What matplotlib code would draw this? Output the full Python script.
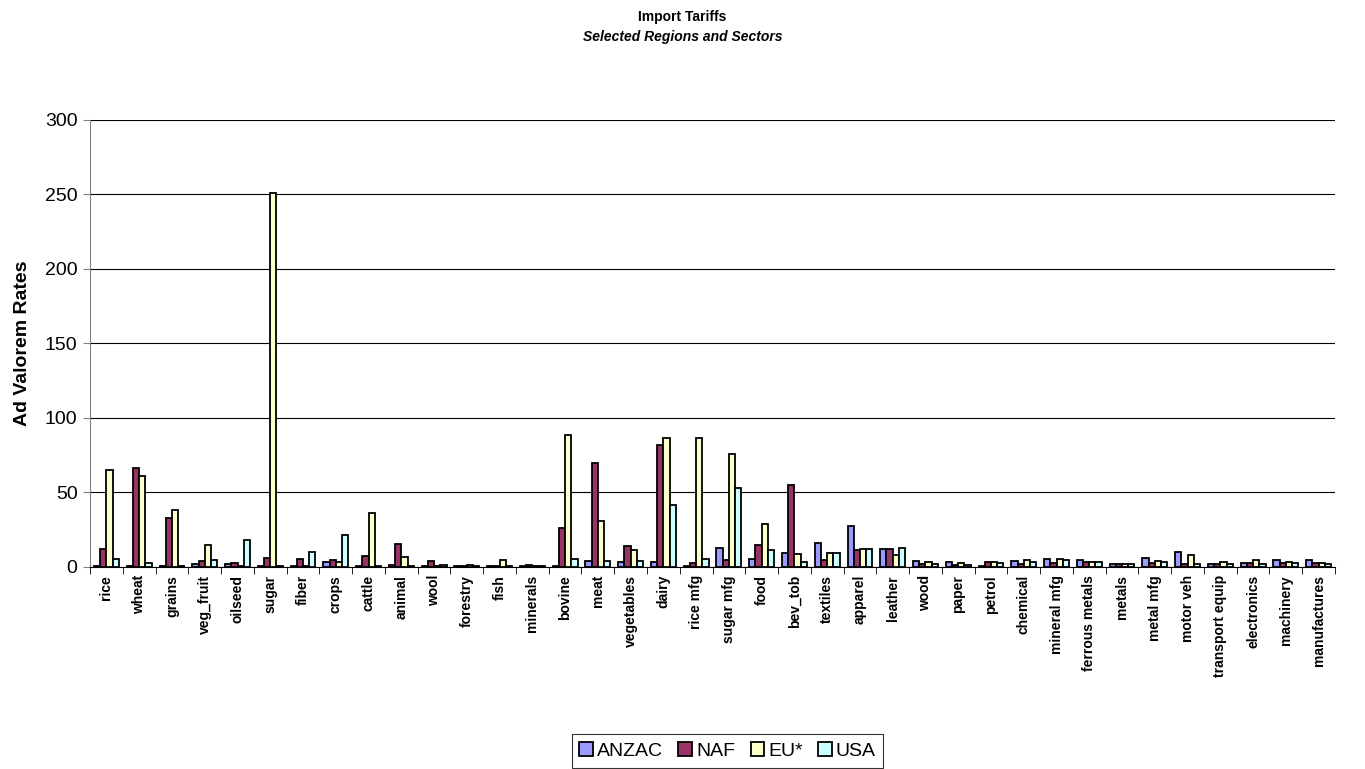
import numpy as np
import matplotlib
matplotlib.use("Agg")
import matplotlib.pyplot as plt

plt.rcParams['font.family'] = ['Liberation Sans', 'DejaVu Sans']

sectors = ["rice", "wheat", "grains", "veg_fruit", "oilseed", "sugar", "fiber", "crops",
           "cattle", "animal", "wool", "forestry", "fish", "minerals", "bovine", "meat",
           "vegetables", "dairy", "rice mfg", "sugar mfg", "food", "bev_tob", "textiles",
           "apparel", "leather", "wood", "paper", "petrol", "chemical", "mineral mfg",
           "ferrous metals", "metals", "metal mfg", "motor veh", "transport equip",
           "electronics", "machinery", "manufactures"]

anzac = [0.5, 0.2, 0.5, 2.0, 2.0, 0.2, 0.3, 2.9, 0.5, 1.0, 0.5, 0.5, 0.2, 0.5, 0.2, 4.0,
         2.9, 3.3, 0.5, 12.9, 4.9, 8.9, 16.0, 27.3, 12.0, 3.8, 3.1, 0.3, 3.8, 4.9,
         4.7, 1.6, 6.2, 9.6, 1.6, 2.2, 4.4, 4.2]
naf = [12.2, 66.2, 32.9, 4.0, 2.7, 5.8, 5.1, 4.4, 6.9, 15.2, 4.0, 0.8, 0.3, 1.5, 26.2, 70.0,
       14.0, 81.6, 2.7, 4.7, 14.9, 54.9, 4.7, 11.3, 12.2, 2.0, 1.3, 2.9, 1.8, 2.2,
       2.9, 1.6, 2.2, 1.8, 1.6, 2.2, 2.2, 2.7]
eu = [64.7, 60.9, 38.4, 14.7, 0.2, 251.0, 0.2, 3.0, 36.4, 6.7, 0.2, 1.0, 4.7, 0.2, 88.2, 30.7,
      11.3, 86.7, 86.7, 76.0, 28.7, 8.4, 8.9, 11.6, 8.0, 2.9, 2.4, 2.9, 4.2, 4.9,
      2.9, 2.0, 3.6, 8.0, 2.9, 4.7, 3.1, 2.7]
usa = [4.9, 2.7, 0.5, 4.7, 17.8, 0.5, 9.8, 21.6, 0.5, 0.5, 1.2, 0.5, 0.5, 0.5, 5.3, 3.6,
       4.0, 41.8, 5.1, 52.9, 11.3, 3.3, 8.9, 11.6, 12.9, 1.6, 1.3, 2.2, 2.9, 4.7,
       2.9, 1.6, 3.3, 1.8, 1.8, 1.8, 2.4, 1.8]

series = [("ANZAC", anzac, "#9999FF"), ("NAF", naf, "#993366"),
          ("EU*", eu, "#FFFFCC"), ("USA", usa, "#CCFFFF")]

fig = plt.figure(figsize=(13.65, 7.69), dpi=100)
ax = fig.add_axes([0.066, 0.263, 0.912, 0.581])

x = np.arange(len(sectors))
w = 0.19
for i, (name, vals, col) in enumerate(series):
    ax.bar(x + (i - 1.5) * w, vals, w, color=col, edgecolor="black", linewidth=1.3,
           label=name, zorder=3)

ax.set_xlim(-0.5, len(sectors) - 0.5)
ax.set_ylim(0, 300)
ax.set_yticks(range(0, 301, 50))
ax.yaxis.grid(True, color="black", linewidth=0.8, zorder=0)
ax.tick_params(axis="y", labelsize=14, length=5, color="gray", pad=4)

ax.set_xticks(x)
ax.set_xticklabels(sectors, rotation=90, fontsize=10, fontweight="bold")
ax.tick_params(axis="x", length=0, pad=6)
ax.set_xticks(np.arange(-0.5, len(sectors), 1), minor=True)
ax.tick_params(axis="x", which="minor", length=5, color="black")

for s in ["top", "right"]:
    ax.spines[s].set_visible(False)
ax.spines["left"].set_color("gray")
ax.spines["bottom"].set_color("black")

ax.set_ylabel("Ad Valorem Rates", fontsize=14, fontweight="bold", labelpad=10)

fig.text(0.5, 0.978, "Import Tariffs", ha="center", va="center", fontsize=10, fontweight="bold")
fig.text(0.5, 0.952, "Selected Regions and Sectors", ha="center", va="center", fontsize=10,
         fontweight="bold", style="italic")

leg = fig.legend(loc="upper center", bbox_to_anchor=(0.533, 0.045), ncol=4, fontsize=14,
                 frameon=True, fancybox=False, edgecolor="black", handlelength=0.7,
                 handleheight=0.7, handletextpad=0.2, columnspacing=0.8, borderpad=0.4,
                 borderaxespad=0)
leg.get_frame().set_linewidth(0.8)

fig.savefig("out.png", dpi=100)
